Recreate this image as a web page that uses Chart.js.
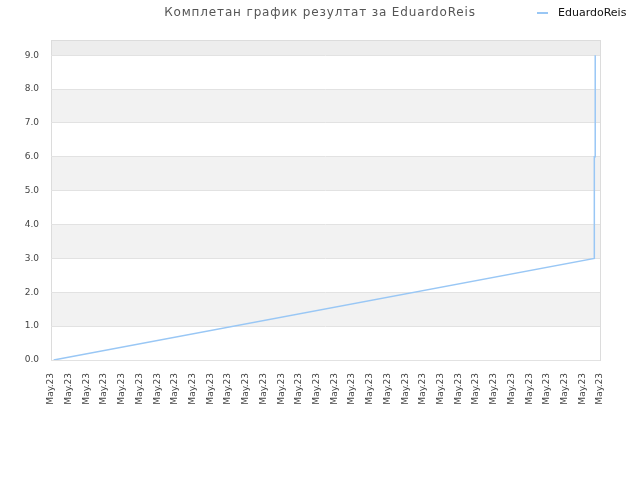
<!DOCTYPE html>
<html>
<head>
<meta charset="utf-8">
<script src="https://cdn.jsdelivr.net/npm/chart.js@4"></script>
<style>
    body { margin: 0; background: #fff; }
    #wrap { position: relative; width: 640px; height: 480px; }
    #title {
        position: absolute; left: 0; width: 640px; top: 4px; text-align: center;
        font: 12px/16px "DejaVu Sans", sans-serif; color: #555; letter-spacing: 0.85px;
    }
    #legend {
        position: absolute; left: 537px; top: 6px;
        font: 11px/13px "DejaVu Sans", sans-serif; color: #111;
    }
    #legend span.line {
        display: inline-block; width: 11px; height: 2px; background: #99c7f5;
        vertical-align: middle; margin-right: 10px; position: relative; top: 0px;
    }
    canvas { position: absolute; left: 0; top: 0; }
</style>
</head>
<body>
<div id="wrap">
    <canvas id="resultChart" width="640" height="480"></canvas>
    <div id="title">Комплетан график резултат за EduardoReis</div>
    <div id="legend"><span class="line"></span>EduardoReis</div>
</div>
<script>
    // Tick labels along the bottom (one per slot)
    var dateLabels = ['May.23', 'May.23', 'May.23', 'May.23', 'May.23', 'May.23', 'May.23', 'May.23',
        'May.23', 'May.23', 'May.23', 'May.23', 'May.23', 'May.23', 'May.23', 'May.23',
        'May.23', 'May.23', 'May.23', 'May.23', 'May.23', 'May.23', 'May.23', 'May.23',
        'May.23', 'May.23', 'May.23', 'May.23', 'May.23', 'May.23', 'May.23', 'May.23'];

    // Result series (x in label slots)
    var resultX = [0.15, 30.68, 30.68, 30.73, 30.73];
    var resultY = [0, 3, 6, 6, 9];

    var seriesName = 'EduardoReis';

    // Alternating background bands + frame
    var bandsPlugin = {
        id: 'bands',
        beforeDraw: function (chart) {
            var ctx = chart.ctx;
            var area = chart.chartArea;
            var y = chart.scales.y;
            ctx.save();
            for (var v = 0; v < 9; v++) {
                if (v % 2 === 1) {
                    var top = y.getPixelForValue(v + 1);
                    var bottom = y.getPixelForValue(v);
                    ctx.fillStyle = '#f2f2f2';
                    ctx.fillRect(area.left, top, area.right - area.left, bottom - top);
                }
            }
            var nine = y.getPixelForValue(9);
            ctx.fillStyle = '#ededed';
            ctx.fillRect(area.left, area.top, area.right - area.left, nine - area.top);
            ctx.strokeStyle = '#dcdcdc';
            ctx.lineWidth = 1;
            ctx.strokeRect(Math.round(area.left) + 0.5, Math.round(area.top) + 0.5,
                Math.round(area.right - area.left), Math.round(area.bottom - area.top));
            ctx.restore();
        }
    };

    var ctx = document.getElementById('resultChart').getContext('2d');
    new Chart(ctx, {
        type: 'line',
        data: {
            datasets: [
                {
                    label: seriesName,
                    data: resultX.map(function (x, i) { return { x: x, y: resultY[i] }; }),
                    borderColor: '#99c7f5',
                    borderWidth: 1.5,
                    pointRadius: 0,
                    tension: 0,
                    fill: false,
                },
            ],
        },
        options: {
            responsive: false,
            animation: false,
            devicePixelRatio: 1,
            layout: { padding: { left: 0, right: 40, top: 40, bottom: 0 } },
            plugins: {
                legend: { display: false },
                title: { display: false },
                tooltip: { enabled: false },
            },
            scales: {
                x: {
                    type: 'linear',
                    min: 0,
                    max: 31,
                    grid: { display: false, drawTicks: false },
                    border: { display: false },
                    afterFit: function (scale) { scale.height = 120; },
                    ticks: {
                        stepSize: 1,
                        autoSkip: false,
                        minRotation: 90,
                        maxRotation: 90,
                        padding: 13,
                        color: '#444',
                        font: { family: 'DejaVu Sans', size: 9 },
                        callback: function (value) { return dateLabels[value]; },
                    },
                },
                y: {
                    min: 0,
                    max: 9.45,
                    grid: { color: '#e2e2e2', drawTicks: false },
                    border: { display: false },
                    afterFit: function (scale) { scale.width = 51; },
                    ticks: {
                        stepSize: 1,
                        includeBounds: false,
                        padding: 12,
                        color: '#444',
                        font: { family: 'DejaVu Sans', size: 9 },
                        callback: function (value) { return value.toFixed(1); },
                    },
                },
            },
        },
        plugins: [bandsPlugin],
    });
</script>
</body>
</html>
